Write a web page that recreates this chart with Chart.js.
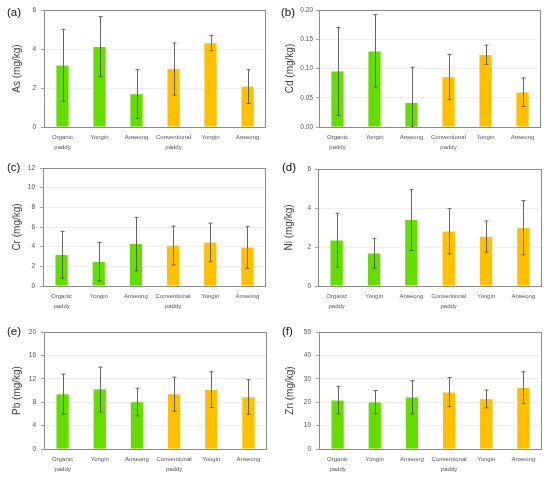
<!DOCTYPE html>
<html><head><meta charset="utf-8">
<script src="https://cdn.jsdelivr.net/npm/chart.js@4.4.1/dist/chart.umd.min.js"></script>
<style>
html,body{margin:0;padding:0;background:#fff;width:555px;height:482px;overflow:hidden;position:relative;font-family:"Liberation Sans",Arial,sans-serif}
canvas{position:absolute}
.lbl{position:absolute;font-size:11.5px;color:#111;line-height:1;white-space:nowrap}
</style></head><body>
<script>
// ---------- data ----------
const categories = [['Organic','paddy'],'Yongin','Anseong',['Conventional','paddy'],'Yongin','Anseong'];
const groups = ['organic','organic','organic','conventional','conventional','conventional'];

const asMean  = [3.15, 4.10, 1.68, 2.97, 4.29, 2.07];
const asUpper = [5.01, 5.66, 2.94, 4.31, 4.70, 2.94];
const asLower = [1.32, 2.58, 0.43, 1.64, 3.91, 1.21];
const asTicks = [0, 2, 4, 6];

const cdMean  = [0.095, 0.129, 0.041, 0.085, 0.123, 0.059];
const cdUpper = [0.170, 0.192, 0.102, 0.124, 0.140, 0.084];
const cdLower = [0.020, 0.068, 0.000, 0.047, 0.107, 0.035];
const cdTicks = [0, 0.05, 0.10, 0.15, 0.20];

const crMean  = [3.16, 2.45, 4.28, 4.10, 4.42, 3.90];
const crUpper = [5.56, 4.44, 6.98, 6.09, 6.40, 6.03];
const crLower = [0.80, 0.52, 1.55, 2.15, 2.48, 1.80];
const crTicks = [0, 2, 4, 6, 8, 10, 12];

const niMean  = [2.33, 1.67, 3.38, 2.79, 2.52, 2.97];
const niUpper = [3.73, 2.43, 4.94, 3.97, 3.33, 4.38];
const niLower = [0.96, 0.92, 1.82, 1.64, 1.74, 1.60];
const niTicks = [0, 2, 4, 6];

const pbMean  = [9.35, 10.20, 8.00, 9.35, 10.10, 8.85];
const pbUpper = [12.80, 14.00, 10.40, 12.28, 13.20, 11.85];
const pbLower = [5.95, 6.35, 5.67, 6.46, 7.08, 5.95];
const pbTicks = [0, 4, 8, 12, 16, 20];

const znMean  = [20.7, 19.9, 22.0, 24.1, 21.3, 26.1];
const znUpper = [26.8, 25.0, 29.2, 30.5, 25.2, 33.0];
const znLower = [15.0, 15.1, 15.0, 18.1, 17.6, 19.4];
const znTicks = [0, 10, 20, 30, 40, 50];

const panelLabels = ['(a)','(b)','(c)','(d)','(e)','(f)'];
const axisTitles = ['As (mg/kg)','Cd (mg/kg)','Cr (mg/kg)','Ni (mg/kg)','Pb (mg/kg)','Zn (mg/kg)'];

// ---------- styles / layout ----------
const groupColors = {organic:'#66dd00', conventional:'#ffc000'};
const panels = [
  {mean:asMean, upper:asUpper, lower:asLower, ticks:asTicks, dec:0,
   x:0,   y:0,   w:277, h:157, l:44,  t:10,  r:266, b:127, tx:17, gap:8, lx:7,   ly:7},
  {mean:cdMean, upper:cdUpper, lower:cdLower, ticks:cdTicks, dec:2,
   x:277, y:0,   w:278, h:157, l:319, t:10,  r:541, b:127, tx:13, gap:6, lx:281, ly:7},
  {mean:crMean, upper:crUpper, lower:crLower, ticks:crTicks, dec:0,
   x:0,   y:157, w:277, h:160, l:43,  t:168, r:266, b:286, tx:17, gap:8, lx:7,   ly:162},
  {mean:niMean, upper:niUpper, lower:niLower, ticks:niTicks, dec:0,
   x:277, y:157, w:278, h:160, l:318, t:169, r:542, b:286, tx:12, gap:7, lx:282, ly:162},
  {mean:pbMean, upper:pbUpper, lower:pbLower, ticks:pbTicks, dec:0,
   x:0,   y:317, w:277, h:165, l:44,  t:332, r:267, b:449, tx:17, gap:8, lx:7,   ly:326},
  {mean:znMean, upper:znUpper, lower:znLower, ticks:znTicks, dec:0,
   x:277, y:317, w:278, h:165, l:319, t:332, r:542, b:449, tx:13, gap:8, lx:282, ly:326}
];

const errorBarPlugin = {
  id:'errorBars',
  afterDatasetsDraw(chart, args, opts){
    const meta = chart.getDatasetMeta(0);
    const ys = chart.scales.y;
    const ctx = chart.ctx;
    const ca = chart.chartArea;
    ctx.save();
    ctx.beginPath();
    ctx.rect(ca.left, ca.top, ca.right-ca.left, ca.bottom-ca.top);
    ctx.clip();
    ctx.strokeStyle = '#555';
    ctx.lineWidth = 0.9;
    meta.data.forEach((el, i) => {
      const x = Math.round(el.x) + 0.5;
      const yt = ys.getPixelForValue(opts.upper[i]);
      const yb = ys.getPixelForValue(opts.lower[i]);
      ctx.beginPath();
      ctx.moveTo(x, yt); ctx.lineTo(x, yb);
      ctx.moveTo(x-2, yt); ctx.lineTo(x+2, yt);
      ctx.moveTo(x-2, yb); ctx.lineTo(x+2, yb);
      ctx.stroke();
    });
    ctx.restore();
  }
};
const framePlugin = {
  id:'frame',
  afterDraw(chart){
    const ca = chart.chartArea, ctx = chart.ctx;
    ctx.save();
    ctx.strokeStyle = '#8c8c8c';
    ctx.lineWidth = 1;
    ctx.strokeRect(Math.round(ca.left)+0.5, Math.round(ca.top)+0.5,
                   Math.round(ca.right-ca.left)-1, Math.round(ca.bottom-ca.top));
    ctx.restore();
  }
};

panels.forEach((p, idx) => {
  const cv = document.createElement('canvas');
  cv.width = p.w; cv.height = p.h;
  cv.style.left = p.x + 'px'; cv.style.top = p.y + 'px';
  cv.style.width = p.w + 'px'; cv.style.height = p.h + 'px';
  document.body.appendChild(cv);

  const lb = document.createElement('div');
  lb.className = 'lbl';
  lb.textContent = panelLabels[idx];
  lb.style.left = p.lx + 'px'; lb.style.top = p.ly + 'px';
  document.body.appendChild(lb);

  const tickVals = p.ticks;
  new Chart(cv, {
    type:'bar',
    data:{
      labels:categories,
      datasets:[{
        data:p.mean,
        backgroundColor:groups.map(g => groupColors[g]),
        borderWidth:0,
        barPercentage:0.33,
        categoryPercentage:1.0
      }]
    },
    options:{
      responsive:false,
      animation:false,
      devicePixelRatio:1,
      layout:{padding:{left:0, top:p.t - p.y, right:p.x + p.w - p.r, bottom:0}},
      plugins:{
        legend:{display:false},
        tooltip:{enabled:false},
        errorBars:{upper:p.upper, lower:p.lower}
      },
      scales:{
        x:{
          grid:{display:false, drawTicks:false},
          border:{display:false},
          ticks:{
            color:'#555', padding:5, maxRotation:0, autoSkip:false,
            font:{family:'"Liberation Sans", Arial, sans-serif', size:6, lineHeight:1.65}
          },
          afterFit(s){ s.height = p.y + p.h - p.b; }
        },
        y:{
          min:tickVals[0], max:tickVals[tickVals.length-1],
          afterBuildTicks(s){ s.ticks = tickVals.map(v => ({value:v})); },
          grid:{color:'#e9e9e9', tickColor:'#8c8c8c', tickLength:3, lineWidth:0.8},
          border:{display:false},
          ticks:{
            color:'#555', padding:p.gap - 3,
            font:{family:'"Liberation Sans", Arial, sans-serif', size:6.5},
            callback:(v) => Number(v).toFixed(p.dec)
          },
          title:{
            display:true, text:axisTitles[idx], color:'#444',
            font:{family:'"Liberation Sans", Arial, sans-serif', size:10, lineHeight:1.2},
            padding:{top:p.tx - 6, bottom:0}
          },
          afterFit(s){ s.width = p.l - p.x; }
        }
      }
    },
    plugins:[errorBarPlugin, framePlugin]
  });
});
</script>
</body></html>
